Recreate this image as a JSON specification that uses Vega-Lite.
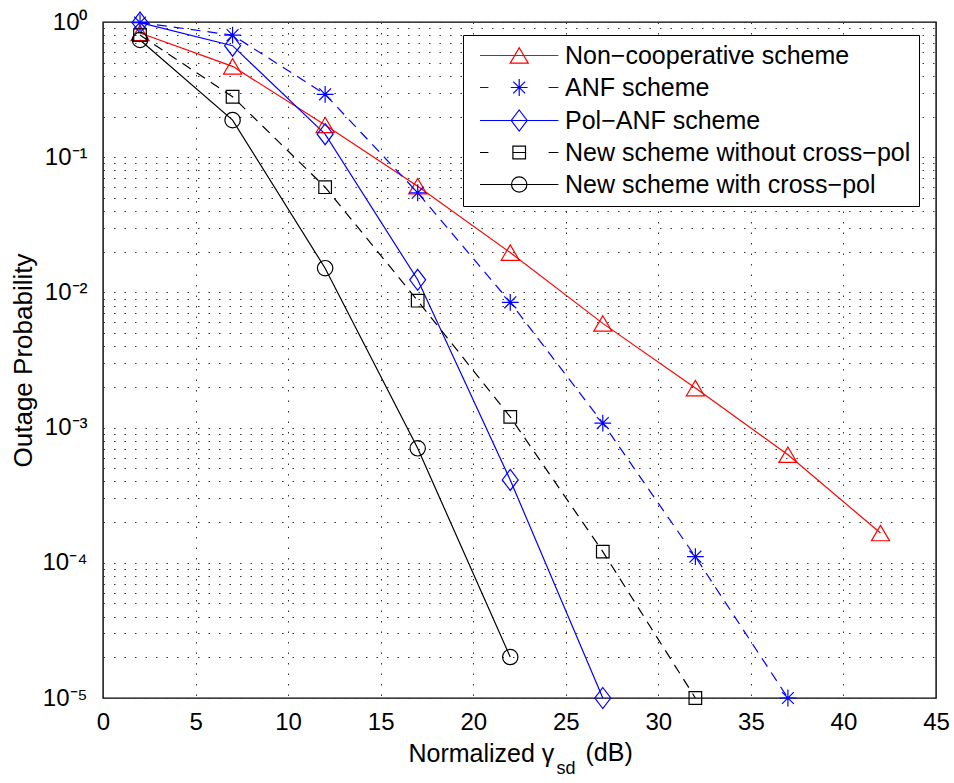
{
  "$schema": "https://vega.github.io/schema/vega-lite/v6.json",
  "autosize": "none",
  "width": 833,
  "height": 676,
  "padding": {"left": 103, "top": 22, "right": 18, "bottom": 85},
  "background": "white",
  "config": {
    "font": "Liberation Sans",
    "view": {"stroke": "black", "strokeWidth": 1.4},
    "axis": {"titleFontWeight": "normal", "labelColor": "black", "titleColor": "black", "tickColor": "black", "tickWidth": 1.2}
  },
  "data": {"values": [
    {"x": 2, "p": 0.83, "s": "Non−cooperative scheme"},
    {"x": 7, "p": 0.47, "s": "Non−cooperative scheme"},
    {"x": 12, "p": 0.173, "s": "Non−cooperative scheme"},
    {"x": 17, "p": 0.061, "s": "Non−cooperative scheme"},
    {"x": 22, "p": 0.0197, "s": "Non−cooperative scheme"},
    {"x": 27, "p": 0.0059, "s": "Non−cooperative scheme"},
    {"x": 32, "p": 0.00196, "s": "Non−cooperative scheme"},
    {"x": 37, "p": 0.00063, "s": "Non−cooperative scheme"},
    {"x": 42, "p": 0.000166, "s": "Non−cooperative scheme"},
    {"x": 2, "p": 0.99, "s": "ANF scheme"},
    {"x": 7, "p": 0.8, "s": "ANF scheme"},
    {"x": 12, "p": 0.292, "s": "ANF scheme"},
    {"x": 17, "p": 0.0546, "s": "ANF scheme"},
    {"x": 22, "p": 0.00845, "s": "ANF scheme"},
    {"x": 27, "p": 0.00108, "s": "ANF scheme"},
    {"x": 32, "p": 0.000111, "s": "ANF scheme"},
    {"x": 37, "p": 0.00001, "s": "ANF scheme"},
    {"x": 2, "p": 0.99, "s": "Pol−ANF scheme"},
    {"x": 7, "p": 0.668, "s": "Pol−ANF scheme"},
    {"x": 12, "p": 0.148, "s": "Pol−ANF scheme"},
    {"x": 17, "p": 0.0124, "s": "Pol−ANF scheme"},
    {"x": 22, "p": 0.00041, "s": "Pol−ANF scheme"},
    {"x": 27, "p": 0.00001, "s": "Pol−ANF scheme"},
    {"x": 2, "p": 0.8, "s": "New scheme without cross−pol"},
    {"x": 7, "p": 0.28, "s": "New scheme without cross−pol"},
    {"x": 12, "p": 0.06, "s": "New scheme without cross−pol"},
    {"x": 17, "p": 0.00868, "s": "New scheme without cross−pol"},
    {"x": 22, "p": 0.0012, "s": "New scheme without cross−pol"},
    {"x": 27, "p": 0.000121, "s": "New scheme without cross−pol"},
    {"x": 32, "p": 0.00001, "s": "New scheme without cross−pol"},
    {"x": 2, "p": 0.736, "s": "New scheme with cross−pol"},
    {"x": 7, "p": 0.188, "s": "New scheme with cross−pol"},
    {"x": 12, "p": 0.0151, "s": "New scheme with cross−pol"},
    {"x": 17, "p": 0.000703, "s": "New scheme with cross−pol"},
    {"x": 22, "p": 0.0000201, "s": "New scheme with cross−pol"}
  ]},
  "resolve": {"axis": {"x": "independent", "y": "independent"}, "scale": {"color": "independent", "shape": "independent"}},
  "layer": [
    {
      "transform": [{"filter": {"field": "s", "oneOf": ["Non−cooperative scheme", "Pol−ANF scheme", "New scheme with cross−pol"]}}],
      "mark": {"type": "line", "strokeWidth": 1.2, "clip": false},
      "encoding": {
        "x": {"field": "x", "type": "quantitative",
          "scale": {"domain": [0, 45], "nice": false, "zero": false},
          "axis": {"orient": "bottom", "values": [0, 5, 10, 15, 20, 25, 30, 35, 40, 45],
            "labelFontSize": 24, "labelPadding": 12, "labelFlush": false, "labelOverlap": false,
            "tickSize": 0, "domain": false,
            "encode": {"ticks": {"update": {"y2": {"value": -8}}}},
            "grid": true, "gridColor": "#333", "gridDash": [1.5, 9], "gridWidth": 1,
            "title": "Normalized γ", "titleFontSize": 25, "titleX": 305, "titleY": 63,
            "titleAlign": "left", "titleBaseline": "alphabetic"}},
        "y": {"field": "p", "type": "quantitative",
          "scale": {"type": "log", "domain": [0.00001, 1], "nice": false},
          "axis": {"orient": "left",
            "values": [0.00001, 0.00002, 0.00003, 0.00004, 0.00005, 0.00006, 0.00007, 0.00008, 0.00009, 0.0001, 0.0002, 0.0003, 0.0004, 0.0005, 0.0006, 0.0007, 0.0008, 0.0009, 0.001, 0.002, 0.003, 0.004, 0.005, 0.006, 0.007, 0.008, 0.009, 0.01, 0.02, 0.03, 0.04, 0.05, 0.06, 0.07, 0.08, 0.09, 0.1, 0.2, 0.3, 0.4, 0.5, 0.6, 0.7, 0.8, 0.9, 1],
            "labelExpr": "abs(log(datum.value)/LN10 - round(log(datum.value)/LN10)) < 1e-6 ? ['10⁰','10⁻¹','10⁻²','10⁻³','10⁻⁴','10⁻⁵'][round(-log(datum.value)/LN10)] : ''",
            "labelFontSize": 24, "labelPadding": 16, "labelOverlap": false, "labelFlush": false,
            "tickSize": 0, "domain": false,
            "encode": {"ticks": {"update": {"x2": {"signal": "abs(log(datum.value)/LN10 - round(log(datum.value)/LN10)) < 1e-6 ? 8 : 4"}}}},
            "grid": true, "gridColor": "#333", "gridDash": [1.5, 9], "gridWidth": 1,
            "title": "Outage Probability", "titleFontSize": 26, "titleX": -80, "titleY": 338,
            "titleAngle": 270, "titleAlign": "center", "titleBaseline": "middle"}},
        "stroke": {"field": "s", "type": "nominal", "legend": null,
          "scale": {"domain": ["New scheme with cross−pol", "New scheme without cross−pol", "Pol−ANF scheme", "ANF scheme", "Non−cooperative scheme"],
            "range": ["#000000", "#000000", "#0000FF", "#0000FF", "#FF0000"]}}
      }
    },
    {
      "transform": [{"filter": {"field": "s", "oneOf": ["ANF scheme", "New scheme without cross−pol"]}}],
      "mark": {"type": "line", "strokeWidth": 1.2, "strokeDash": [10, 7], "clip": false},
      "encoding": {
        "x": {"field": "x", "type": "quantitative",
          "axis": {"orient": "top", "values": [5, 10, 15, 20, 25, 30, 35, 40],
            "labels": false, "domain": false, "grid": false, "tickSize": 0,
            "encode": {"ticks": {"update": {"y2": {"value": 8}}}},
            "title": "(dB)", "titleFontSize": 25, "titleX": 482, "titleY": 738,
            "titleAlign": "left", "titleBaseline": "alphabetic"}},
        "y": {"field": "p", "type": "quantitative", "axis": null},
        "stroke": {"field": "s", "type": "nominal", "legend": null}
      }
    },
    {
      "mark": {"type": "point", "filled": false, "strokeWidth": 1.2, "size": 196, "opacity": 1, "clip": false},
      "encoding": {
        "x": {"field": "x", "type": "quantitative",
          "axis": {"orient": "bottom", "labels": false, "ticks": false, "domain": false, "grid": false,
            "title": "sd", "titleFontSize": 18, "titleX": 453, "titleY": 75,
            "titleAlign": "left", "titleBaseline": "alphabetic"}},
        "y": {"field": "p", "type": "quantitative",
          "axis": {"orient": "right", "labels": false, "domain": false, "grid": false, "title": null,
            "values": [0.00001, 0.00002, 0.00003, 0.00004, 0.00005, 0.00006, 0.00007, 0.00008, 0.00009, 0.0001, 0.0002, 0.0003, 0.0004, 0.0005, 0.0006, 0.0007, 0.0008, 0.0009, 0.001, 0.002, 0.003, 0.004, 0.005, 0.006, 0.007, 0.008, 0.009, 0.01, 0.02, 0.03, 0.04, 0.05, 0.06, 0.07, 0.08, 0.09, 0.1, 0.2, 0.3, 0.4, 0.5, 0.6, 0.7, 0.8, 0.9, 1],
            "tickSize": 0,
            "encode": {"ticks": {"update": {"x2": {"signal": "abs(log(datum.value)/LN10 - round(log(datum.value)/LN10)) < 1e-6 ? -8 : -4"}}}}}},
        "color": {"field": "s", "type": "nominal", "legend": null,
          "scale": {"domain": ["Non−cooperative scheme", "ANF scheme", "Pol−ANF scheme", "New scheme without cross−pol", "New scheme with cross−pol"],
            "range": ["#FF0000", "#0000FF", "#0000FF", "#000000", "#000000"]}},
        "shape": {"field": "s", "type": "nominal", "legend": null,
          "scale": {"domain": ["Non−cooperative scheme", "ANF scheme", "Pol−ANF scheme", "New scheme without cross−pol", "New scheme with cross−pol"],
            "range": ["M0,-1.1L1.29,1.1L-1.29,1.1Z", "M-1.2,0L1.2,0M0,-1.2L0,1.2M-0.85,-0.85L0.85,0.85M-0.85,0.85L0.85,-0.85", "M0,-1.5L1.14,0L0,1.5L-1.14,0Z", "M-0.9,-0.9L0.9,-0.9L0.9,0.9L-0.9,0.9Z", "M-1.1,0A1.1,1.1,0,1,1,1.1,0A1.1,1.1,0,1,1,-1.1,0Z"]}}
      }
    },
    {
      "mark": {"type": "point", "filled": false, "strokeWidth": 1.2, "size": 196, "opacity": 0, "clip": false},
      "encoding": {
        "x": {"field": "x", "type": "quantitative", "axis": null},
        "y": {"field": "p", "type": "quantitative", "axis": null},
        "color": {"field": "s", "type": "nominal",
          "scale": {"domain": ["Non−cooperative scheme", "ANF scheme", "Pol−ANF scheme", "New scheme without cross−pol", "New scheme with cross−pol"],
            "range": ["#FF0000", "#0000FF", "#0000FF", "#000000", "#000000"]},
          "legend": {"orient": "none", "legendX": 360, "legendY": 13, "title": null,
            "labelFontSize": 25, "labelLimit": 1000, "labelColor": "black", "labelOffset": 69,
            "symbolSize": 196, "symbolStrokeWidth": 1.2, "symbolOpacity": 1, "rowPadding": 6, "padding": 8,
            "strokeColor": "black", "fillColor": "white"}},
        "shape": {"field": "s", "type": "nominal",
          "scale": {"domain": ["Non−cooperative scheme", "ANF scheme", "Pol−ANF scheme", "New scheme without cross−pol", "New scheme with cross−pol"],
            "range": ["M-0.5,0L10.7,0M5.1,-1.1L6.39,1.1L3.81,1.1Z", "M-0.5,0L0.7,0M9.3,0L10.7,0M3.9,0L6.3,0M5.1,-1.2L5.1,1.2M4.25,-0.85L5.95,0.85M4.25,0.85L5.95,-0.85", "M-0.5,0L10.7,0M5.1,-1.5L6.24,0L5.1,1.5L3.96,0Z", "M-0.5,0L0.7,0M9.3,0L10.7,0M4.2,-0.9L6,-0.9L6,0.9L4.2,0.9ZM4.2,0L6,0", "M-0.5,0L10.7,0M4,0A1.1,1.1,0,1,1,6.2,0A1.1,1.1,0,1,1,4,0Z"]},
          "legend": {"orient": "none", "legendX": 360, "legendY": 13, "title": null,
            "labelFontSize": 25, "labelLimit": 1000, "labelColor": "black", "labelOffset": 69,
            "symbolSize": 196, "symbolStrokeWidth": 1.2, "symbolOpacity": 1, "rowPadding": 6, "padding": 8,
            "strokeColor": "black", "fillColor": "white"}}
      }
    }
  ]
}
